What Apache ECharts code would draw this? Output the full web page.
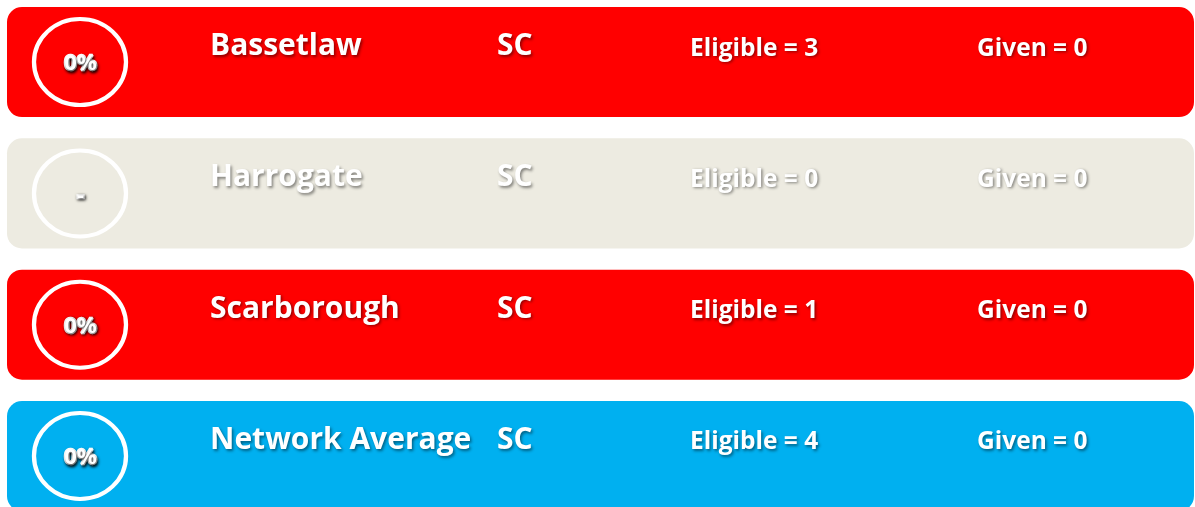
<!DOCTYPE html>
<html><head><meta charset="utf-8">
<script src="https://cdn.jsdelivr.net/npm/echarts@6/dist/echarts.min.js"></script>
<style>html,body{margin:0;padding:0;background:#fff}#c{width:1195px;height:507px}</style>
</head><body><div id="c"></div>
<script>
var sites = ['Bassetlaw', 'Harrogate', 'Scarborough', 'Network Average'];
var service = ['SC', 'SC', 'SC', 'SC'];
var eligible = [3, 0, 1, 4];
var given = [0, 0, 0, 0];
var percentLabels = ['0%', '-', '0%', '0%'];
var rowStatus = ['low', 'none', 'low', 'average'];

var statusColors = { low: '#FF0000', none: '#EDEBE1', average: '#00B0F0' };
var FONT = '"Open Sans", Lato, sans-serif';
var chart = echarts.init(document.getElementById('c'), null, { renderer: 'canvas' });

var rows = sites.map(function (s, i) { return [0, i]; });

function txt(x, y, text, size, extra) {
  return {
    type: 'text',
    style: Object.assign({
      x: x, y: y, text: text, fill: '#FFFFFF',
      font: 'bold ' + size + 'px ' + FONT,
      verticalAlign: 'middle', align: 'left',
      textShadowColor: 'rgba(0,0,0,0.45)', textShadowBlur: 3, textShadowOffsetX: 1.5, textShadowOffsetY: 1.5
    }, extra || {})
  };
}

chart.setOption({
  animation: false,
  grid: { left: 7, right: 1, top: -3.6, bottom: -14.7, outerBoundsMode: 'none', containLabel: false },
  xAxis: { type: 'value', min: 0, max: 1, show: false },
  yAxis: { type: 'category', data: sites, inverse: true, show: false },
  series: [{
    type: 'custom',
    data: rows,
    clip: false,
    renderItem: function (params, api) {
      var i = api.value(1);
      var c = api.coord([0, i]);
      var band = api.size([0, 1])[1];
      var h = band * 0.838;
      var w = params.coordSys.width;
      var x0 = params.coordSys.x;
      var top = c[1] - h / 2;
      var cy = c[1];
      var children = [
        { type: 'rect', shape: { x: x0, y: top, width: w, height: h, r: 15 },
          style: { fill: statusColors[rowStatus[i]] } },
        { type: 'circle', shape: { cx: 80, cy: cy, r: 43 }, scaleX: 1.07, originX: 80, originY: cy,
          style: { fill: 'none', stroke: '#FFFFFF', lineWidth: 4 } },
        txt(80.5, cy + 2, percentLabels[i], 22, { align: 'center', font: 'bold 22px ' + FONT,
          stroke: '#FFFFFF', lineWidth: 2.5,
          textShadowColor: 'rgba(0,0,0,0.8)', textShadowBlur: 3, textShadowOffsetX: 1, textShadowOffsetY: 1.5 }),
        txt(210, top + 39.5, sites[i], 30),
        txt(497, top + 39.5, service[i], 30),
        txt(690, top + 41.5, 'Eligible = ' + eligible[i], 24.5),
        txt(977, top + 41.5, 'Given = ' + given[i], 24.5)
      ];
      return { type: 'group', children: children };
    }
  }]
});
</script></body></html>
